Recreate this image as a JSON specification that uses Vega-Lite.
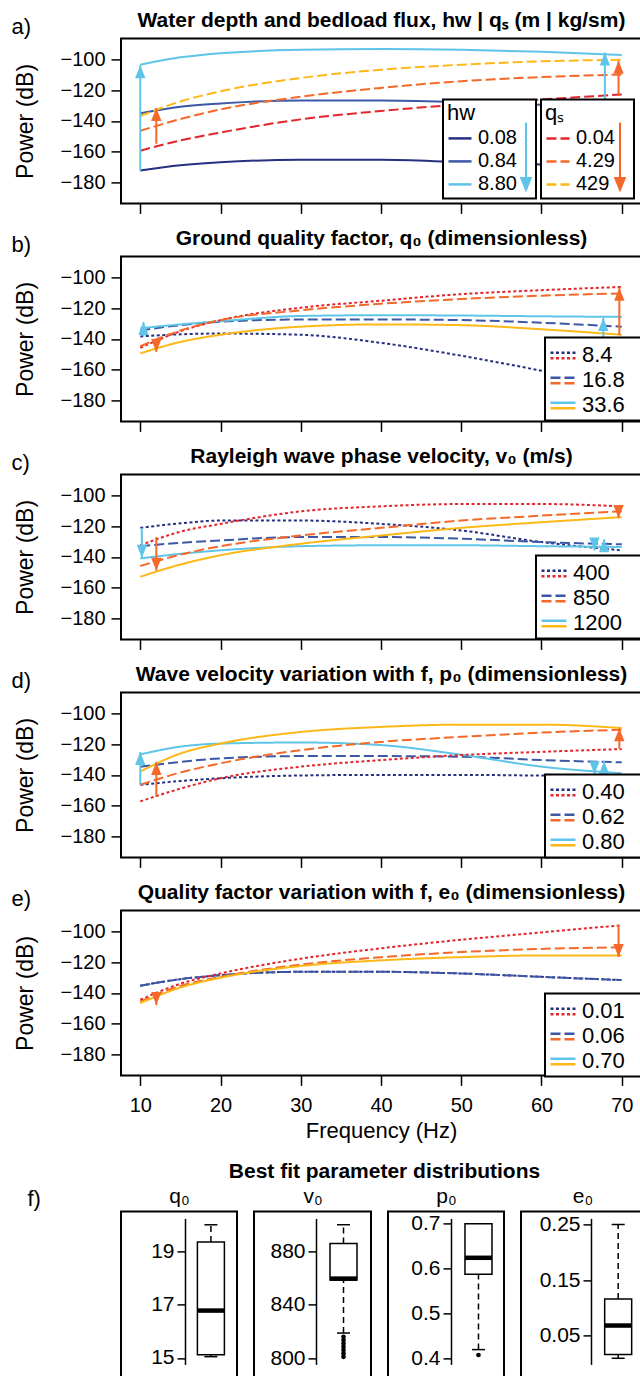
{
"$schema": "https://vega.github.io/schema/vega-lite/v6.json",
"padding": {"left": 10, "top": 8.4, "right": 0, "bottom": 0},
"spacing": 18,
"config": {
 "font": "Liberation Sans",
 "view": {"stroke": "black", "strokeWidth": 2},
 "title": {"font": "Liberation Sans", "fontSize": 21, "fontWeight": "bold", "color": "black", "baseline": "alphabetic"},
 "axis": {"domain": false, "grid": false, "tickColor": "black", "tickWidth": 1.5, "labelColor": "black", "labelFontSize": 20, "titleColor": "black", "titleFontWeight": "normal", "titleFontSize": 23, "labelFlush": false, "labelOverlap": false},
 "axisY": {"tickSize": 10, "labelPadding": 6, "titlePadding": 22},
 "axisX": {"tickSize": 10, "labelPadding": 10, "titlePadding": 5},
 "legend": {"labelFontSize": 22, "labelColor": "black", "titleFontSize": 22, "titleFontWeight": "normal", "titleColor": "black", "symbolStrokeWidth": 2.5, "padding": 4, "labelOffset": 5, "rowPadding": 0, "titlePadding": 0, "strokeWidth": 2}
},
"datasets": {
 "curves": [
  {"panel":"a","fam":"blue","level":"0.08","freq":10,"power":-172.5},{"panel":"a","fam":"blue","level":"0.08","freq":15,"power":-169},{"panel":"a","fam":"blue","level":"0.08","freq":20,"power":-167},{"panel":"a","fam":"blue","level":"0.08","freq":30,"power":-165.5},{"panel":"a","fam":"blue","level":"0.08","freq":40,"power":-165.5},{"panel":"a","fam":"blue","level":"0.08","freq":50,"power":-167},{"panel":"a","fam":"blue","level":"0.08","freq":60,"power":-168.5},{"panel":"a","fam":"blue","level":"0.08","freq":70,"power":-170},
  {"panel":"a","fam":"blue","level":"0.84","freq":10,"power":-135},{"panel":"a","fam":"blue","level":"0.84","freq":15,"power":-130.8},{"panel":"a","fam":"blue","level":"0.84","freq":20,"power":-128.6},{"panel":"a","fam":"blue","level":"0.84","freq":30,"power":-126.6},{"panel":"a","fam":"blue","level":"0.84","freq":40,"power":-126.6},{"panel":"a","fam":"blue","level":"0.84","freq":50,"power":-127.7},{"panel":"a","fam":"blue","level":"0.84","freq":60,"power":-129.5},{"panel":"a","fam":"blue","level":"0.84","freq":70,"power":-131.5},
  {"panel":"a","fam":"blue","level":"8.80","freq":10,"power":-103.2},{"panel":"a","fam":"blue","level":"8.80","freq":15,"power":-98.4},{"panel":"a","fam":"blue","level":"8.80","freq":20,"power":-95.7},{"panel":"a","fam":"blue","level":"8.80","freq":30,"power":-93.5},{"panel":"a","fam":"blue","level":"8.80","freq":40,"power":-93},{"panel":"a","fam":"blue","level":"8.80","freq":50,"power":-93.5},{"panel":"a","fam":"blue","level":"8.80","freq":60,"power":-94.8},{"panel":"a","fam":"blue","level":"8.80","freq":70,"power":-96.8},
  {"panel":"a","fam":"red","level":"0.04","freq":10,"power":-159.5},{"panel":"a","fam":"red","level":"0.04","freq":15,"power":-152.8},{"panel":"a","fam":"red","level":"0.04","freq":20,"power":-147.6},{"panel":"a","fam":"red","level":"0.04","freq":30,"power":-139},{"panel":"a","fam":"red","level":"0.04","freq":40,"power":-133.5},{"panel":"a","fam":"red","level":"0.04","freq":50,"power":-129.2},{"panel":"a","fam":"red","level":"0.04","freq":60,"power":-126},{"panel":"a","fam":"red","level":"0.04","freq":70,"power":-122.7},
  {"panel":"a","fam":"red","level":"4.29","freq":10,"power":-146.5},{"panel":"a","fam":"red","level":"4.29","freq":15,"power":-138.8},{"panel":"a","fam":"red","level":"4.29","freq":20,"power":-132.5},{"panel":"a","fam":"red","level":"4.29","freq":30,"power":-124.2},{"panel":"a","fam":"red","level":"4.29","freq":40,"power":-118.4},{"panel":"a","fam":"red","level":"4.29","freq":50,"power":-114},{"panel":"a","fam":"red","level":"4.29","freq":60,"power":-111.3},{"panel":"a","fam":"red","level":"4.29","freq":70,"power":-109.7},
  {"panel":"a","fam":"red","level":"429","freq":10,"power":-136.8},{"panel":"a","fam":"red","level":"429","freq":15,"power":-127.3},{"panel":"a","fam":"red","level":"429","freq":20,"power":-120.6},{"panel":"a","fam":"red","level":"429","freq":30,"power":-111.9},{"panel":"a","fam":"red","level":"429","freq":40,"power":-106.5},{"panel":"a","fam":"red","level":"429","freq":50,"power":-103.2},{"panel":"a","fam":"red","level":"429","freq":60,"power":-101},{"panel":"a","fam":"red","level":"429","freq":70,"power":-100},

  {"panel":"b","fam":"blue","level":"8.4","freq":10,"power":-138.4},{"panel":"b","fam":"blue","level":"8.4","freq":15,"power":-137},{"panel":"b","fam":"blue","level":"8.4","freq":20,"power":-136.5},{"panel":"b","fam":"blue","level":"8.4","freq":30,"power":-137.3},{"panel":"b","fam":"blue","level":"8.4","freq":40,"power":-142.6},{"panel":"b","fam":"blue","level":"8.4","freq":50,"power":-151},{"panel":"b","fam":"blue","level":"8.4","freq":60,"power":-160.8},{"panel":"b","fam":"blue","level":"8.4","freq":70,"power":-171},
  {"panel":"b","fam":"blue","level":"16.8","freq":10,"power":-134.5},{"panel":"b","fam":"blue","level":"16.8","freq":15,"power":-131},{"panel":"b","fam":"blue","level":"16.8","freq":20,"power":-128.8},{"panel":"b","fam":"blue","level":"16.8","freq":30,"power":-127.3},{"panel":"b","fam":"blue","level":"16.8","freq":40,"power":-127.3},{"panel":"b","fam":"blue","level":"16.8","freq":50,"power":-127.7},{"panel":"b","fam":"blue","level":"16.8","freq":60,"power":-129.4},{"panel":"b","fam":"blue","level":"16.8","freq":70,"power":-132},
  {"panel":"b","fam":"blue","level":"33.6","freq":10,"power":-133},{"panel":"b","fam":"blue","level":"33.6","freq":15,"power":-130.5},{"panel":"b","fam":"blue","level":"33.6","freq":20,"power":-128.4},{"panel":"b","fam":"blue","level":"33.6","freq":30,"power":-125},{"panel":"b","fam":"blue","level":"33.6","freq":40,"power":-124.5},{"panel":"b","fam":"blue","level":"33.6","freq":50,"power":-124.7},{"panel":"b","fam":"blue","level":"33.6","freq":60,"power":-125.2},{"panel":"b","fam":"blue","level":"33.6","freq":70,"power":-125.6},
  {"panel":"b","fam":"red","level":"8.4","freq":10,"power":-145.8},{"panel":"b","fam":"red","level":"8.4","freq":15,"power":-135},{"panel":"b","fam":"red","level":"8.4","freq":20,"power":-127.7},{"panel":"b","fam":"red","level":"8.4","freq":30,"power":-119.6},{"panel":"b","fam":"red","level":"8.4","freq":40,"power":-115},{"panel":"b","fam":"red","level":"8.4","freq":50,"power":-110.7},{"panel":"b","fam":"red","level":"8.4","freq":60,"power":-108.1},{"panel":"b","fam":"red","level":"8.4","freq":70,"power":-106},
  {"panel":"b","fam":"red","level":"16.8","freq":10,"power":-144.8},{"panel":"b","fam":"red","level":"16.8","freq":15,"power":-134.5},{"panel":"b","fam":"red","level":"16.8","freq":20,"power":-127.7},{"panel":"b","fam":"red","level":"16.8","freq":30,"power":-121.3},{"panel":"b","fam":"red","level":"16.8","freq":40,"power":-117},{"panel":"b","fam":"red","level":"16.8","freq":50,"power":-113.9},{"panel":"b","fam":"red","level":"16.8","freq":60,"power":-111.7},{"panel":"b","fam":"red","level":"16.8","freq":70,"power":-110.2},
  {"panel":"b","fam":"red","level":"33.6","freq":10,"power":-149.5},{"panel":"b","fam":"red","level":"33.6","freq":15,"power":-142},{"panel":"b","fam":"red","level":"33.6","freq":20,"power":-137.3},{"panel":"b","fam":"red","level":"33.6","freq":30,"power":-132},{"panel":"b","fam":"red","level":"33.6","freq":40,"power":-130.5},{"panel":"b","fam":"red","level":"33.6","freq":50,"power":-131},{"panel":"b","fam":"red","level":"33.6","freq":60,"power":-133.7},{"panel":"b","fam":"red","level":"33.6","freq":70,"power":-137.3},

  {"panel":"c","fam":"blue","level":"400","freq":10,"power":-121},{"panel":"c","fam":"blue","level":"400","freq":15,"power":-118},{"panel":"c","fam":"blue","level":"400","freq":20,"power":-116.2},{"panel":"c","fam":"blue","level":"400","freq":30,"power":-116.2},{"panel":"c","fam":"blue","level":"400","freq":40,"power":-118.4},{"panel":"c","fam":"blue","level":"400","freq":50,"power":-122.7},{"panel":"c","fam":"blue","level":"400","freq":60,"power":-130.3},{"panel":"c","fam":"blue","level":"400","freq":70,"power":-135.7},
  {"panel":"c","fam":"blue","level":"850","freq":10,"power":-133},{"panel":"c","fam":"blue","level":"850","freq":15,"power":-130.8},{"panel":"c","fam":"blue","level":"850","freq":20,"power":-129.2},{"panel":"c","fam":"blue","level":"850","freq":30,"power":-127},{"panel":"c","fam":"blue","level":"850","freq":40,"power":-127},{"panel":"c","fam":"blue","level":"850","freq":50,"power":-128.1},{"panel":"c","fam":"blue","level":"850","freq":60,"power":-130.3},{"panel":"c","fam":"blue","level":"850","freq":70,"power":-131.8},
  {"panel":"c","fam":"blue","level":"1200","freq":10,"power":-141},{"panel":"c","fam":"blue","level":"1200","freq":15,"power":-138},{"panel":"c","fam":"blue","level":"1200","freq":20,"power":-135.7},{"panel":"c","fam":"blue","level":"1200","freq":30,"power":-133},{"panel":"c","fam":"blue","level":"1200","freq":40,"power":-132.4},{"panel":"c","fam":"blue","level":"1200","freq":50,"power":-132.4},{"panel":"c","fam":"blue","level":"1200","freq":60,"power":-133},{"panel":"c","fam":"blue","level":"1200","freq":70,"power":-133.5},
  {"panel":"c","fam":"red","level":"400","freq":10,"power":-132.4},{"panel":"c","fam":"red","level":"400","freq":15,"power":-123.5},{"panel":"c","fam":"red","level":"400","freq":20,"power":-118.4},{"panel":"c","fam":"red","level":"400","freq":30,"power":-110.2},{"panel":"c","fam":"red","level":"400","freq":40,"power":-106.9},{"panel":"c","fam":"red","level":"400","freq":50,"power":-105.4},{"panel":"c","fam":"red","level":"400","freq":60,"power":-105.4},{"panel":"c","fam":"red","level":"400","freq":70,"power":-106.9},
  {"panel":"c","fam":"red","level":"850","freq":10,"power":-146},{"panel":"c","fam":"red","level":"850","freq":15,"power":-138.5},{"panel":"c","fam":"red","level":"850","freq":20,"power":-133},{"panel":"c","fam":"red","level":"850","freq":30,"power":-126},{"panel":"c","fam":"red","level":"850","freq":40,"power":-121},{"panel":"c","fam":"red","level":"850","freq":50,"power":-116.2},{"panel":"c","fam":"red","level":"850","freq":60,"power":-113},{"panel":"c","fam":"red","level":"850","freq":70,"power":-110.2},
  {"panel":"c","fam":"red","level":"1200","freq":10,"power":-153},{"panel":"c","fam":"red","level":"1200","freq":15,"power":-145},{"panel":"c","fam":"red","level":"1200","freq":20,"power":-138.9},{"panel":"c","fam":"red","level":"1200","freq":30,"power":-131.4},{"panel":"c","fam":"red","level":"1200","freq":40,"power":-126},{"panel":"c","fam":"red","level":"1200","freq":50,"power":-121},{"panel":"c","fam":"red","level":"1200","freq":60,"power":-117.3},{"panel":"c","fam":"red","level":"1200","freq":70,"power":-114},

  {"panel":"d","fam":"blue","level":"0.40","freq":10,"power":-146.5},{"panel":"d","fam":"blue","level":"0.40","freq":15,"power":-144},{"panel":"d","fam":"blue","level":"0.40","freq":20,"power":-142.2},{"panel":"d","fam":"blue","level":"0.40","freq":30,"power":-140.4},{"panel":"d","fam":"blue","level":"0.40","freq":40,"power":-140},{"panel":"d","fam":"blue","level":"0.40","freq":50,"power":-140},{"panel":"d","fam":"blue","level":"0.40","freq":60,"power":-140.4},{"panel":"d","fam":"blue","level":"0.40","freq":70,"power":-140.5},
  {"panel":"d","fam":"blue","level":"0.62","freq":10,"power":-134.6},{"panel":"d","fam":"blue","level":"0.62","freq":15,"power":-131.5},{"panel":"d","fam":"blue","level":"0.62","freq":20,"power":-129.2},{"panel":"d","fam":"blue","level":"0.62","freq":30,"power":-127.7},{"panel":"d","fam":"blue","level":"0.62","freq":40,"power":-127.7},{"panel":"d","fam":"blue","level":"0.62","freq":50,"power":-128.1},{"panel":"d","fam":"blue","level":"0.62","freq":60,"power":-130.3},{"panel":"d","fam":"blue","level":"0.62","freq":70,"power":-131.8},
  {"panel":"d","fam":"blue","level":"0.80","freq":10,"power":-126.6},{"panel":"d","fam":"blue","level":"0.80","freq":15,"power":-121.5},{"panel":"d","fam":"blue","level":"0.80","freq":20,"power":-119.5},{"panel":"d","fam":"blue","level":"0.80","freq":30,"power":-118.8},{"panel":"d","fam":"blue","level":"0.80","freq":40,"power":-120.5},{"panel":"d","fam":"blue","level":"0.80","freq":50,"power":-126.8},{"panel":"d","fam":"blue","level":"0.80","freq":60,"power":-134.6},{"panel":"d","fam":"blue","level":"0.80","freq":70,"power":-138.9},
  {"panel":"d","fam":"red","level":"0.40","freq":10,"power":-157.3},{"panel":"d","fam":"red","level":"0.40","freq":15,"power":-149},{"panel":"d","fam":"red","level":"0.40","freq":20,"power":-142.2},{"panel":"d","fam":"red","level":"0.40","freq":30,"power":-134.6},{"panel":"d","fam":"red","level":"0.40","freq":40,"power":-130.3},{"panel":"d","fam":"red","level":"0.40","freq":50,"power":-127},{"panel":"d","fam":"red","level":"0.40","freq":60,"power":-124.9},{"panel":"d","fam":"red","level":"0.40","freq":70,"power":-123.1},
  {"panel":"d","fam":"red","level":"0.62","freq":10,"power":-146.5},{"panel":"d","fam":"red","level":"0.62","freq":15,"power":-138.5},{"panel":"d","fam":"red","level":"0.62","freq":20,"power":-132.4},{"panel":"d","fam":"red","level":"0.62","freq":30,"power":-123.8},{"panel":"d","fam":"red","level":"0.62","freq":40,"power":-118.4},{"panel":"d","fam":"red","level":"0.62","freq":50,"power":-115.1},{"panel":"d","fam":"red","level":"0.62","freq":60,"power":-112.3},{"panel":"d","fam":"red","level":"0.62","freq":70,"power":-110.4},
  {"panel":"d","fam":"red","level":"0.80","freq":10,"power":-137.8},{"panel":"d","fam":"red","level":"0.80","freq":15,"power":-126},{"panel":"d","fam":"red","level":"0.80","freq":20,"power":-119.5},{"panel":"d","fam":"red","level":"0.80","freq":30,"power":-111.9},{"panel":"d","fam":"red","level":"0.80","freq":40,"power":-108.6},{"panel":"d","fam":"red","level":"0.80","freq":50,"power":-107.1},{"panel":"d","fam":"red","level":"0.80","freq":60,"power":-107.1},{"panel":"d","fam":"red","level":"0.80","freq":70,"power":-109.3},

  {"panel":"e","fam":"blue","level":"0.01","freq":10,"power":-135.3},{"panel":"e","fam":"blue","level":"0.01","freq":15,"power":-131},{"panel":"e","fam":"blue","level":"0.01","freq":20,"power":-128.4},{"panel":"e","fam":"blue","level":"0.01","freq":30,"power":-126.2},{"panel":"e","fam":"blue","level":"0.01","freq":40,"power":-126.2},{"panel":"e","fam":"blue","level":"0.01","freq":50,"power":-127.3},{"panel":"e","fam":"blue","level":"0.01","freq":60,"power":-129.5},{"panel":"e","fam":"blue","level":"0.01","freq":70,"power":-131.6},
  {"panel":"e","fam":"blue","level":"0.06","freq":10,"power":-135.3},{"panel":"e","fam":"blue","level":"0.06","freq":15,"power":-131},{"panel":"e","fam":"blue","level":"0.06","freq":20,"power":-128.4},{"panel":"e","fam":"blue","level":"0.06","freq":30,"power":-126.2},{"panel":"e","fam":"blue","level":"0.06","freq":40,"power":-126.2},{"panel":"e","fam":"blue","level":"0.06","freq":50,"power":-127.3},{"panel":"e","fam":"blue","level":"0.06","freq":60,"power":-129.5},{"panel":"e","fam":"blue","level":"0.06","freq":70,"power":-131.6},
  {"panel":"e","fam":"red","level":"0.01","freq":10,"power":-144.5},{"panel":"e","fam":"red","level":"0.01","freq":15,"power":-134},{"panel":"e","fam":"red","level":"0.01","freq":20,"power":-127.3},{"panel":"e","fam":"red","level":"0.01","freq":30,"power":-117.6},{"panel":"e","fam":"red","level":"0.01","freq":40,"power":-110.8},{"panel":"e","fam":"red","level":"0.01","freq":50,"power":-105.2},{"panel":"e","fam":"red","level":"0.01","freq":60,"power":-100.4},{"panel":"e","fam":"red","level":"0.01","freq":70,"power":-95.7},
  {"panel":"e","fam":"red","level":"0.06","freq":10,"power":-145.6},{"panel":"e","fam":"red","level":"0.06","freq":15,"power":-135.5},{"panel":"e","fam":"red","level":"0.06","freq":20,"power":-129.5},{"panel":"e","fam":"red","level":"0.06","freq":30,"power":-121.5},{"panel":"e","fam":"red","level":"0.06","freq":40,"power":-116.6},{"panel":"e","fam":"red","level":"0.06","freq":50,"power":-113.3},{"panel":"e","fam":"red","level":"0.06","freq":60,"power":-111.2},{"panel":"e","fam":"red","level":"0.06","freq":70,"power":-110.1},
  {"panel":"e","fam":"red","level":"0.70","freq":10,"power":-146.7},{"panel":"e","fam":"red","level":"0.70","freq":15,"power":-136.5},{"panel":"e","fam":"red","level":"0.70","freq":20,"power":-130.1},{"panel":"e","fam":"red","level":"0.70","freq":30,"power":-122.4},{"panel":"e","fam":"red","level":"0.70","freq":40,"power":-118.7},{"panel":"e","fam":"red","level":"0.70","freq":50,"power":-116.6},{"panel":"e","fam":"red","level":"0.70","freq":60,"power":-115.5},{"panel":"e","fam":"red","level":"0.70","freq":70,"power":-115.5}
 ],
 "arrows": [
  {"panel":"a","fam":"blue","dir":"up","freq":10,"from":-172.5,"to":-103.5},
  {"panel":"a","fam":"red","dir":"up","freq":12,"from":-155,"to":-131.5},
  {"panel":"a","fam":"blue","dir":"up","freq":67.9,"from":-168,"to":-95.3},
  {"panel":"a","fam":"red","dir":"up","freq":69.6,"from":-122.7,"to":-100.6},
  {"panel":"b","fam":"blue","dir":"up","freq":10.4,"from":-138.4,"to":-129},
  {"panel":"b","fam":"red","dir":"down","freq":12,"from":-140.5,"to":-148.5},
  {"panel":"b","fam":"blue","dir":"up","freq":67.7,"from":-166,"to":-126.3},
  {"panel":"b","fam":"red","dir":"up","freq":69.7,"from":-137.5,"to":-106.5},
  {"panel":"c","fam":"blue","dir":"down","freq":10.2,"from":-121,"to":-140.5},
  {"panel":"c","fam":"red","dir":"down","freq":12,"from":-127,"to":-149},
  {"panel":"c","fam":"blue","dir":"down","freq":66.6,"from":-129,"to":-135.8},
  {"panel":"c","fam":"blue","dir":"up","freq":67.8,"from":-135.8,"to":-128.5},
  {"panel":"c","fam":"red","dir":"down","freq":69.6,"from":-107,"to":-114.5},
  {"panel":"d","fam":"blue","dir":"up","freq":10,"from":-146.5,"to":-125},
  {"panel":"d","fam":"red","dir":"up","freq":12,"from":-154.5,"to":-131.5},
  {"panel":"d","fam":"blue","dir":"down","freq":66.6,"from":-131,"to":-139.5},
  {"panel":"d","fam":"blue","dir":"up","freq":67.8,"from":-140,"to":-131},
  {"panel":"d","fam":"red","dir":"up","freq":69.7,"from":-123,"to":-109.5},
  {"panel":"e","fam":"red","dir":"down","freq":12,"from":-140,"to":-148},
  {"panel":"e","fam":"red","dir":"down","freq":69.6,"from":-95.7,"to":-116.5}
 ],
 "boxes": [
  {"param":"q0","min":15.05,"q1":15.12,"median":16.78,"q3":19.35,"max":20.0},
  {"param":"v0","min":818.8,"q1":858.5,"median":859.6,"q3":886,"max":900},
  {"param":"p0","min":0.419,"q1":0.587,"median":0.624,"q3":0.70,"max":0.70},
  {"param":"e0","min":0.009,"q1":0.016,"median":0.068,"q3":0.116,"max":0.25}
 ],
 "outliers": [
  {"param":"v0","value":816},{"param":"v0","value":813.5},{"param":"v0","value":811},{"param":"v0","value":808.5},{"param":"v0","value":806},{"param":"v0","value":803.5},{"param":"v0","value":801},
  {"param":"p0","value":0.407}
 ]
},
"vconcat": [
{
"spacing": 11,
"vconcat": [
 {
  "width": 520, "height": 165,
  "layer": [
   {"data": {"name": "curves"}, "transform": [{"filter": "datum.panel == 'a' && datum.fam == 'blue'"}],
    "mark": {"type": "line", "strokeWidth": 2, "interpolate": "monotone"},
    "encoding": {
     "x": {"field": "freq", "type": "quantitative", "scale": {"domain": [7.6, 72.4], "nice": false, "zero": false}, "axis": {"values": [10,20,30,40,50,60,70], "labels": false, "title": null}},
     "y": {"field": "power", "type": "quantitative", "scale": {"domain": [-194, -86], "nice": false, "zero": false}, "title": "Power (dB)", "axis": {"values": [-180,-160,-140,-120,-100], "format": "d"}},
     "color": {"field": "level", "type": "nominal", "scale": {"domain": ["0.08","0.84","8.80"], "range": ["#262f80","#3d57a7","#5ec5e8"]}, "legend": {"title": "hw", "orient": "none", "legendX": 322, "legendY": 61, "symbolType": "stroke", "symbolSize": 529, "labelFontSize": 20, "zindex": 1, "fillColor": "white", "strokeColor": "black", "labelExpr": "datum.label + '\u2800'"}}
    }},
   {"data": {"name": "curves"}, "transform": [{"filter": "datum.panel == 'a' && datum.fam == 'red'"}],
    "mark": {"type": "line", "strokeWidth": 2, "interpolate": "monotone", "strokeDash": [10, 4]},
    "encoding": {
     "x": {"field": "freq", "type": "quantitative", "scale": {"domain": [7.6, 72.4], "nice": false, "zero": false}, "axis": null},
     "y": {"field": "power", "type": "quantitative", "scale": {"domain": [-194, -86], "nice": false, "zero": false}, "axis": {"orient": "right", "title": "a)", "labels": false, "ticks": false, "domain": false, "titleX": -630, "titleY": -5, "titleAngle": 0, "titleAlign": "left", "titleBaseline": "alphabetic", "titleFontSize": 22}},
     "color": {"field": "level", "type": "nominal", "scale": {"domain": ["0.04","4.29","429"], "range": ["#e2262c","#f4692a","#fcb817"]}, "legend": {"title": "qₛ", "orient": "none", "legendX": 420, "legendY": 61, "symbolType": "stroke", "symbolSize": 529, "labelFontSize": 20, "symbolDash": [10, 4], "zindex": 1, "fillColor": "white", "strokeColor": "black", "labelExpr": "datum.label + '\u2800'"}}
    }},
   {"data": {"name": "curves"}, "transform": [{"filter": "false"}],
    "mark": {"type": "point", "filled": true, "color": "#5ec5e8", "opacity": 1},
    "encoding": {
     "shape": {"field": "level", "type": "nominal", "scale": {"domain": ["hw"], "range": ["M-0.03,-1H0.03V0.56H0.18L0,1L-0.18,0.56H-0.03Z"]}, "legend": {"title": null, "orient": "none", "legendX": 370, "legendY": 84, "symbolSize": 4900, "symbolStrokeWidth": 0, "symbolFillColor": "#5ec5e8", "labelOpacity": 0, "labelFontSize": 1, "labelOffset": 0, "padding": 0, "zindex": 3}}
    }},
   {"data": {"name": "curves"}, "transform": [{"filter": "false"}],
    "mark": {"type": "point", "filled": true, "color": "#f4692a", "opacity": 1},
    "encoding": {
     "shape": {"field": "level", "type": "nominal", "scale": {"domain": ["qs"], "range": ["M-0.03,-1H0.03V0.56H0.18L0,1L-0.18,0.56H-0.03Z"]}, "legend": {"title": null, "orient": "none", "legendX": 464, "legendY": 84, "symbolSize": 4900, "symbolStrokeWidth": 0, "symbolFillColor": "#f4692a", "labelOpacity": 0, "labelFontSize": 1, "labelOffset": 0, "padding": 0, "zindex": 3}}
    }},
   {"data": {"name": "arrows"}, "transform": [{"filter": "datum.panel == 'a'"}],
    "mark": {"type": "rule", "strokeWidth": 2},
    "encoding": {
     "x": {"field": "freq", "type": "quantitative", "scale": {"domain": [7.6, 72.4], "nice": false, "zero": false}, "axis": {"orient": "top", "title": "Water depth and bedload flux, hw | qₛ (m | kg/sm)", "domain": false, "ticks": false, "labels": false, "titleX": 260, "titleY": -12, "titleAlign": "center", "titleBaseline": "alphabetic", "titleFont": "Liberation Sans Narrow, Liberation Sans", "titleFontWeight": "bold", "titleFontSize": 21}},
     "y": {"field": "from", "type": "quantitative", "scale": {"domain": [-194, -86], "nice": false, "zero": false}, "axis": null},
     "y2": {"field": "to"},
     "color": {"field": "fam", "type": "nominal", "scale": {"domain": ["blue","red"], "range": ["#5ec5e8","#f4692a"]}, "legend": null}
    }},
   {"data": {"name": "arrows"}, "transform": [{"filter": "datum.panel == 'a' && datum.dir == 'up'"}],
    "mark": {"type": "point", "shape": "M0,-1L0.8,1L-0.8,1Z", "size": 169, "filled": true, "opacity": 1, "strokeWidth": 0, "yOffset": 6.5},
    "encoding": {
     "x": {"field": "freq", "type": "quantitative", "scale": {"domain": [7.6, 72.4], "nice": false, "zero": false}, "axis": null},
     "y": {"field": "to", "type": "quantitative", "scale": {"domain": [-194, -86], "nice": false, "zero": false}, "axis": null},
     "color": {"field": "fam", "type": "nominal", "scale": {"domain": ["blue","red"], "range": ["#5ec5e8","#f4692a"]}, "legend": null}
    }}
  ],
  "resolve": {"scale": {"color": "independent", "strokeDash": "independent", "shape": "independent"}, "axis": {"x": "independent", "y": "independent"}}
 },
 {
  "width": 520, "height": 165,
  "layer": [
   {"data": {"name": "curves"}, "transform": [{"filter": "datum.panel == 'b' && datum.fam == 'blue'"}],
    "mark": {"type": "line", "strokeWidth": 2, "interpolate": "monotone"},
    "encoding": {
     "x": {"field": "freq", "type": "quantitative", "scale": {"domain": [7.6, 72.4], "nice": false, "zero": false}, "axis": {"values": [10,20,30,40,50,60,70], "labels": false, "title": null}},
     "y": {"field": "power", "type": "quantitative", "scale": {"domain": [-194, -86], "nice": false, "zero": false}, "title": "Power (dB)", "axis": {"values": [-180,-160,-140,-120,-100], "format": "d"}},
     "color": {"field": "level", "type": "nominal", "scale": {"domain": ["8.4","16.8","33.6"], "range": ["#262f80","#3d57a7","#5ec5e8"]}, "legend": {"title": null, "orient": "none", "legendX": 424, "legendY": 81, "symbolType": "M-1,-0.22H1", "symbolSize": 625, "zindex": 1, "fillColor": "white", "strokeColor": "black", "labelExpr": "datum.label + '\u2800'"}},
     "strokeDash": {"field": "level", "type": "nominal", "scale": {"domain": ["8.4","16.8","33.6"], "range": [[3,2.5],[10,4],[1,0]]}}
    }},
   {"data": {"name": "curves"}, "transform": [{"filter": "datum.panel == 'b' && datum.fam == 'red'"}],
    "mark": {"type": "line", "strokeWidth": 2, "interpolate": "monotone"},
    "encoding": {
     "x": {"field": "freq", "type": "quantitative", "scale": {"domain": [7.6, 72.4], "nice": false, "zero": false}, "axis": null},
     "y": {"field": "power", "type": "quantitative", "scale": {"domain": [-194, -86], "nice": false, "zero": false}, "axis": {"orient": "right", "title": "b)", "labels": false, "ticks": false, "domain": false, "titleX": -630, "titleY": -5, "titleAngle": 0, "titleAlign": "left", "titleBaseline": "alphabetic", "titleFontSize": 22}},
     "color": {"field": "level", "type": "nominal", "scale": {"domain": ["8.4","16.8","33.6"], "range": ["#e2262c","#f4692a","#fcb817"]}, "legend": {"title": null, "orient": "none", "legendX": 424, "legendY": 81, "symbolType": "M-1,0.22H1", "symbolSize": 625, "zindex": 2, "labelOpacity": 0, "labelExpr": "datum.label + '\u2800'"}},
     "strokeDash": {"field": "level", "type": "nominal", "scale": {"domain": ["8.4","16.8","33.6"], "range": [[3,2.5],[10,4],[1,0]]}}
    }},
   {"data": {"name": "arrows"}, "transform": [{"filter": "datum.panel == 'b'"}],
    "mark": {"type": "rule", "strokeWidth": 2},
    "encoding": {
     "x": {"field": "freq", "type": "quantitative", "scale": {"domain": [7.6, 72.4], "nice": false, "zero": false}, "axis": {"orient": "top", "title": "Ground quality factor, q₀ (dimensionless)", "domain": false, "ticks": false, "labels": false, "titleX": 260, "titleY": -12, "titleAlign": "center", "titleBaseline": "alphabetic", "titleFont": "Liberation Sans Narrow, Liberation Sans", "titleFontWeight": "bold", "titleFontSize": 21}},
     "y": {"field": "from", "type": "quantitative", "scale": {"domain": [-194, -86], "nice": false, "zero": false}, "axis": null},
     "y2": {"field": "to"},
     "color": {"field": "fam", "type": "nominal", "scale": {"domain": ["blue","red"], "range": ["#5ec5e8","#f4692a"]}, "legend": null}
    }},
   {"data": {"name": "arrows"}, "transform": [{"filter": "datum.panel == 'b' && datum.dir == 'up'"}],
    "mark": {"type": "point", "shape": "M0,-1L0.8,1L-0.8,1Z", "size": 169, "filled": true, "opacity": 1, "strokeWidth": 0, "yOffset": 6.5},
    "encoding": {
     "x": {"field": "freq", "type": "quantitative", "scale": {"domain": [7.6, 72.4], "nice": false, "zero": false}, "axis": null},
     "y": {"field": "to", "type": "quantitative", "scale": {"domain": [-194, -86], "nice": false, "zero": false}, "axis": null},
     "color": {"field": "fam", "type": "nominal", "scale": {"domain": ["blue","red"], "range": ["#5ec5e8","#f4692a"]}, "legend": null}
    }},
   {"data": {"name": "arrows"}, "transform": [{"filter": "datum.panel == 'b' && datum.dir == 'down'"}],
    "mark": {"type": "point", "shape": "M0,1L0.8,-1L-0.8,-1Z", "size": 169, "filled": true, "opacity": 1, "strokeWidth": 0, "yOffset": -6.5},
    "encoding": {
     "x": {"field": "freq", "type": "quantitative", "scale": {"domain": [7.6, 72.4], "nice": false, "zero": false}, "axis": null},
     "y": {"field": "to", "type": "quantitative", "scale": {"domain": [-194, -86], "nice": false, "zero": false}, "axis": null},
     "color": {"field": "fam", "type": "nominal", "scale": {"domain": ["blue","red"], "range": ["#5ec5e8","#f4692a"]}, "legend": null}
    }}
  ],
  "resolve": {"scale": {"color": "independent", "strokeDash": "independent"}, "axis": {"x": "independent", "y": "independent"}}
 },
 {
  "width": 520, "height": 165,
  "layer": [
   {"data": {"name": "curves"}, "transform": [{"filter": "datum.panel == 'c' && datum.fam == 'blue'"}],
    "mark": {"type": "line", "strokeWidth": 2, "interpolate": "monotone"},
    "encoding": {
     "x": {"field": "freq", "type": "quantitative", "scale": {"domain": [7.6, 72.4], "nice": false, "zero": false}, "axis": {"values": [10,20,30,40,50,60,70], "labels": false, "title": null}},
     "y": {"field": "power", "type": "quantitative", "scale": {"domain": [-194, -86], "nice": false, "zero": false}, "title": "Power (dB)", "axis": {"values": [-180,-160,-140,-120,-100], "format": "d"}},
     "color": {"field": "level", "type": "nominal", "scale": {"domain": ["400","850","1200"], "range": ["#262f80","#3d57a7","#5ec5e8"]}, "legend": {"title": null, "orient": "none", "legendX": 415, "legendY": 81, "symbolType": "M-1,-0.22H1", "symbolSize": 625, "zindex": 1, "fillColor": "white", "strokeColor": "black", "labelExpr": "datum.label + '\u2800'"}},
     "strokeDash": {"field": "level", "type": "nominal", "scale": {"domain": ["400","850","1200"], "range": [[3,2.5],[10,4],[1,0]]}}
    }},
   {"data": {"name": "curves"}, "transform": [{"filter": "datum.panel == 'c' && datum.fam == 'red'"}],
    "mark": {"type": "line", "strokeWidth": 2, "interpolate": "monotone"},
    "encoding": {
     "x": {"field": "freq", "type": "quantitative", "scale": {"domain": [7.6, 72.4], "nice": false, "zero": false}, "axis": null},
     "y": {"field": "power", "type": "quantitative", "scale": {"domain": [-194, -86], "nice": false, "zero": false}, "axis": {"orient": "right", "title": "c)", "labels": false, "ticks": false, "domain": false, "titleX": -630, "titleY": -5, "titleAngle": 0, "titleAlign": "left", "titleBaseline": "alphabetic", "titleFontSize": 22}},
     "color": {"field": "level", "type": "nominal", "scale": {"domain": ["400","850","1200"], "range": ["#e2262c","#f4692a","#fcb817"]}, "legend": {"title": null, "orient": "none", "legendX": 415, "legendY": 81, "symbolType": "M-1,0.22H1", "symbolSize": 625, "zindex": 2, "labelOpacity": 0, "labelExpr": "datum.label + '\u2800'"}},
     "strokeDash": {"field": "level", "type": "nominal", "scale": {"domain": ["400","850","1200"], "range": [[3,2.5],[10,4],[1,0]]}}
    }},
   {"data": {"name": "arrows"}, "transform": [{"filter": "datum.panel == 'c'"}],
    "mark": {"type": "rule", "strokeWidth": 2},
    "encoding": {
     "x": {"field": "freq", "type": "quantitative", "scale": {"domain": [7.6, 72.4], "nice": false, "zero": false}, "axis": {"orient": "top", "title": "Rayleigh wave phase velocity, v₀ (m/s)", "domain": false, "ticks": false, "labels": false, "titleX": 260, "titleY": -12, "titleAlign": "center", "titleBaseline": "alphabetic", "titleFont": "Liberation Sans Narrow, Liberation Sans", "titleFontWeight": "bold", "titleFontSize": 21}},
     "y": {"field": "from", "type": "quantitative", "scale": {"domain": [-194, -86], "nice": false, "zero": false}, "axis": null},
     "y2": {"field": "to"},
     "color": {"field": "fam", "type": "nominal", "scale": {"domain": ["blue","red"], "range": ["#5ec5e8","#f4692a"]}, "legend": null}
    }},
   {"data": {"name": "arrows"}, "transform": [{"filter": "datum.panel == 'c' && datum.dir == 'up'"}],
    "mark": {"type": "point", "shape": "M0,-1L0.8,1L-0.8,1Z", "size": 169, "filled": true, "opacity": 1, "strokeWidth": 0, "yOffset": 6.5},
    "encoding": {
     "x": {"field": "freq", "type": "quantitative", "scale": {"domain": [7.6, 72.4], "nice": false, "zero": false}, "axis": null},
     "y": {"field": "to", "type": "quantitative", "scale": {"domain": [-194, -86], "nice": false, "zero": false}, "axis": null},
     "color": {"field": "fam", "type": "nominal", "scale": {"domain": ["blue","red"], "range": ["#5ec5e8","#f4692a"]}, "legend": null}
    }},
   {"data": {"name": "arrows"}, "transform": [{"filter": "datum.panel == 'c' && datum.dir == 'down'"}],
    "mark": {"type": "point", "shape": "M0,1L0.8,-1L-0.8,-1Z", "size": 169, "filled": true, "opacity": 1, "strokeWidth": 0, "yOffset": -6.5},
    "encoding": {
     "x": {"field": "freq", "type": "quantitative", "scale": {"domain": [7.6, 72.4], "nice": false, "zero": false}, "axis": null},
     "y": {"field": "to", "type": "quantitative", "scale": {"domain": [-194, -86], "nice": false, "zero": false}, "axis": null},
     "color": {"field": "fam", "type": "nominal", "scale": {"domain": ["blue","red"], "range": ["#5ec5e8","#f4692a"]}, "legend": null}
    }}
  ],
  "resolve": {"scale": {"color": "independent", "strokeDash": "independent"}, "axis": {"x": "independent", "y": "independent"}}
 },
 {
  "width": 520, "height": 165,
  "layer": [
   {"data": {"name": "curves"}, "transform": [{"filter": "datum.panel == 'd' && datum.fam == 'blue'"}],
    "mark": {"type": "line", "strokeWidth": 2, "interpolate": "monotone"},
    "encoding": {
     "x": {"field": "freq", "type": "quantitative", "scale": {"domain": [7.6, 72.4], "nice": false, "zero": false}, "axis": {"values": [10,20,30,40,50,60,70], "labels": false, "title": null}},
     "y": {"field": "power", "type": "quantitative", "scale": {"domain": [-194, -86], "nice": false, "zero": false}, "title": "Power (dB)", "axis": {"values": [-180,-160,-140,-120,-100], "format": "d"}},
     "color": {"field": "level", "type": "nominal", "scale": {"domain": ["0.40","0.62","0.80"], "range": ["#262f80","#3d57a7","#5ec5e8"]}, "legend": {"title": null, "orient": "none", "legendX": 424, "legendY": 82, "symbolType": "M-1,-0.22H1", "symbolSize": 625, "zindex": 1, "fillColor": "white", "strokeColor": "black", "labelExpr": "datum.label + '\u2800'"}},
     "strokeDash": {"field": "level", "type": "nominal", "scale": {"domain": ["0.40","0.62","0.80"], "range": [[3,2.5],[10,4],[1,0]]}}
    }},
   {"data": {"name": "curves"}, "transform": [{"filter": "datum.panel == 'd' && datum.fam == 'red'"}],
    "mark": {"type": "line", "strokeWidth": 2, "interpolate": "monotone"},
    "encoding": {
     "x": {"field": "freq", "type": "quantitative", "scale": {"domain": [7.6, 72.4], "nice": false, "zero": false}, "axis": null},
     "y": {"field": "power", "type": "quantitative", "scale": {"domain": [-194, -86], "nice": false, "zero": false}, "axis": {"orient": "right", "title": "d)", "labels": false, "ticks": false, "domain": false, "titleX": -630, "titleY": -5, "titleAngle": 0, "titleAlign": "left", "titleBaseline": "alphabetic", "titleFontSize": 22}},
     "color": {"field": "level", "type": "nominal", "scale": {"domain": ["0.40","0.62","0.80"], "range": ["#e2262c","#f4692a","#fcb817"]}, "legend": {"title": null, "orient": "none", "legendX": 424, "legendY": 82, "symbolType": "M-1,0.22H1", "symbolSize": 625, "zindex": 2, "labelOpacity": 0, "labelExpr": "datum.label + '\u2800'"}},
     "strokeDash": {"field": "level", "type": "nominal", "scale": {"domain": ["0.40","0.62","0.80"], "range": [[3,2.5],[10,4],[1,0]]}}
    }},
   {"data": {"name": "arrows"}, "transform": [{"filter": "datum.panel == 'd'"}],
    "mark": {"type": "rule", "strokeWidth": 2},
    "encoding": {
     "x": {"field": "freq", "type": "quantitative", "scale": {"domain": [7.6, 72.4], "nice": false, "zero": false}, "axis": {"orient": "top", "title": "Wave velocity variation with f, p₀ (dimensionless)", "domain": false, "ticks": false, "labels": false, "titleX": 260, "titleY": -12, "titleAlign": "center", "titleBaseline": "alphabetic", "titleFont": "Liberation Sans Narrow, Liberation Sans", "titleFontWeight": "bold", "titleFontSize": 21}},
     "y": {"field": "from", "type": "quantitative", "scale": {"domain": [-194, -86], "nice": false, "zero": false}, "axis": null},
     "y2": {"field": "to"},
     "color": {"field": "fam", "type": "nominal", "scale": {"domain": ["blue","red"], "range": ["#5ec5e8","#f4692a"]}, "legend": null}
    }},
   {"data": {"name": "arrows"}, "transform": [{"filter": "datum.panel == 'd' && datum.dir == 'up'"}],
    "mark": {"type": "point", "shape": "M0,-1L0.8,1L-0.8,1Z", "size": 169, "filled": true, "opacity": 1, "strokeWidth": 0, "yOffset": 6.5},
    "encoding": {
     "x": {"field": "freq", "type": "quantitative", "scale": {"domain": [7.6, 72.4], "nice": false, "zero": false}, "axis": null},
     "y": {"field": "to", "type": "quantitative", "scale": {"domain": [-194, -86], "nice": false, "zero": false}, "axis": null},
     "color": {"field": "fam", "type": "nominal", "scale": {"domain": ["blue","red"], "range": ["#5ec5e8","#f4692a"]}, "legend": null}
    }},
   {"data": {"name": "arrows"}, "transform": [{"filter": "datum.panel == 'd' && datum.dir == 'down'"}],
    "mark": {"type": "point", "shape": "M0,1L0.8,-1L-0.8,-1Z", "size": 169, "filled": true, "opacity": 1, "strokeWidth": 0, "yOffset": -6.5},
    "encoding": {
     "x": {"field": "freq", "type": "quantitative", "scale": {"domain": [7.6, 72.4], "nice": false, "zero": false}, "axis": null},
     "y": {"field": "to", "type": "quantitative", "scale": {"domain": [-194, -86], "nice": false, "zero": false}, "axis": null},
     "color": {"field": "fam", "type": "nominal", "scale": {"domain": ["blue","red"], "range": ["#5ec5e8","#f4692a"]}, "legend": null}
    }}
  ],
  "resolve": {"scale": {"color": "independent", "strokeDash": "independent"}, "axis": {"x": "independent", "y": "independent"}}
 },
 {
  "width": 520, "height": 165,
  "layer": [
   {"data": {"name": "curves"}, "transform": [{"filter": "datum.panel == 'e' && datum.fam == 'blue'"}],
    "mark": {"type": "line", "strokeWidth": 2, "interpolate": "monotone"},
    "encoding": {
     "x": {"field": "freq", "type": "quantitative", "scale": {"domain": [7.6, 72.4], "nice": false, "zero": false}, "axis": {"values": [10,20,30,40,50,60,70], "title": "Frequency (Hz)", "titleFontSize": 22}},
     "y": {"field": "power", "type": "quantitative", "scale": {"domain": [-194, -86], "nice": false, "zero": false}, "title": "Power (dB)", "axis": {"values": [-180,-160,-140,-120,-100], "format": "d"}},
     "color": {"field": "level", "type": "nominal", "scale": {"domain": ["0.01","0.06","0.70"], "range": ["#262f80","#3d57a7","#5ec5e8"]}, "legend": {"title": null, "orient": "none", "legendX": 424, "legendY": 83, "symbolType": "M-1,-0.22H1", "symbolSize": 625, "zindex": 1, "fillColor": "white", "strokeColor": "black", "labelExpr": "datum.label + '\u2800'"}},
     "strokeDash": {"field": "level", "type": "nominal", "scale": {"domain": ["0.01","0.06","0.70"], "range": [[3,2.5],[10,4],[1,0]]}}
    }},
   {"data": {"name": "curves"}, "transform": [{"filter": "datum.panel == 'e' && datum.fam == 'red'"}],
    "mark": {"type": "line", "strokeWidth": 2, "interpolate": "monotone"},
    "encoding": {
     "x": {"field": "freq", "type": "quantitative", "scale": {"domain": [7.6, 72.4], "nice": false, "zero": false}, "axis": null},
     "y": {"field": "power", "type": "quantitative", "scale": {"domain": [-194, -86], "nice": false, "zero": false}, "axis": {"orient": "right", "title": "e)", "labels": false, "ticks": false, "domain": false, "titleX": -630, "titleY": -5, "titleAngle": 0, "titleAlign": "left", "titleBaseline": "alphabetic", "titleFontSize": 22}},
     "color": {"field": "level", "type": "nominal", "scale": {"domain": ["0.01","0.06","0.70"], "range": ["#e2262c","#f4692a","#fcb817"]}, "legend": {"title": null, "orient": "none", "legendX": 424, "legendY": 83, "symbolType": "M-1,0.22H1", "symbolSize": 625, "zindex": 2, "labelOpacity": 0, "labelExpr": "datum.label + '\u2800'"}},
     "strokeDash": {"field": "level", "type": "nominal", "scale": {"domain": ["0.01","0.06","0.70"], "range": [[3,2.5],[10,4],[1,0]]}}
    }},
   {"data": {"name": "arrows"}, "transform": [{"filter": "datum.panel == 'e'"}],
    "mark": {"type": "rule", "strokeWidth": 2},
    "encoding": {
     "x": {"field": "freq", "type": "quantitative", "scale": {"domain": [7.6, 72.4], "nice": false, "zero": false}, "axis": {"orient": "top", "title": "Quality factor variation with f, e₀ (dimensionless)", "domain": false, "ticks": false, "labels": false, "titleX": 260, "titleY": -12, "titleAlign": "center", "titleBaseline": "alphabetic", "titleFont": "Liberation Sans Narrow, Liberation Sans", "titleFontWeight": "bold", "titleFontSize": 21}},
     "y": {"field": "from", "type": "quantitative", "scale": {"domain": [-194, -86], "nice": false, "zero": false}, "axis": null},
     "y2": {"field": "to"},
     "color": {"field": "fam", "type": "nominal", "scale": {"domain": ["blue","red"], "range": ["#5ec5e8","#f4692a"]}, "legend": null}
    }},
   {"data": {"name": "arrows"}, "transform": [{"filter": "datum.panel == 'e' && datum.dir == 'down'"}],
    "mark": {"type": "point", "shape": "M0,1L0.8,-1L-0.8,-1Z", "size": 169, "filled": true, "opacity": 1, "strokeWidth": 0, "yOffset": -6.5},
    "encoding": {
     "x": {"field": "freq", "type": "quantitative", "scale": {"domain": [7.6, 72.4], "nice": false, "zero": false}, "axis": null},
     "y": {"field": "to", "type": "quantitative", "scale": {"domain": [-194, -86], "nice": false, "zero": false}, "axis": null},
     "color": {"field": "fam", "type": "nominal", "scale": {"domain": ["blue","red"], "range": ["#5ec5e8","#f4692a"]}, "legend": null}
    }}
  ],
  "resolve": {"scale": {"color": "independent", "strokeDash": "independent"}, "axis": {"x": "independent", "y": "independent"}}
 }
]
},
{
  "title": {"text": "Best fit parameter distributions", "frame": "bounds", "anchor": "middle", "dx": 57, "offset": 2.75, "font": "Liberation Sans", "fontSize": 21},
  "spacing": 15,
  "hconcat": [
   {
    "width": 116, "height": 175,
    "data": {"name": "boxes"},
    "transform": [{"filter": "datum.param == 'q0'"}],
    "encoding": {"x": {"field": "param", "type": "nominal", "scale": {"type": "point", "align": 0.775, "padding": 0}, "axis": {"orient": "top", "title": "q₀", "domain": false, "ticks": false, "labels": false, "titleX": 58, "titleY": -9, "titleAlign": "center", "titleBaseline": "alphabetic", "titleFontSize": 21, "titleFontWeight": "normal"}}},
    "layer": [
     {"mark": {"type": "rule", "color": "black", "strokeWidth": 1.5, "strokeDash": [6, 4]},
      "encoding": {
       "y": {"field": "q3", "type": "quantitative", "scale": {"domain": [14.76, 20.24], "range": [153, 7], "nice": false, "zero": false}, "title": null, "axis": {"values": [15, 17, 19], "format": "d", "offset": -64, "domain": true, "domainColor": "black", "domainWidth": 1.5, "tickSize": 8, "labelPadding": 3, "labelFontSize": 21}},
       "y2": {"field": "max"}
      }},
     {"mark": {"type": "rule", "color": "black", "strokeWidth": 1.5, "strokeDash": [6, 4]},
      "encoding": {"y": {"field": "min", "type": "quantitative", "scale": {"domain": [14.76, 20.24], "range": [153, 7], "nice": false, "zero": false}, "axis": {"orient": "right", "title": "\u2800f)", "labels": false, "ticks": false, "domain": false, "titleX": -226, "titleY": -5.5, "titleAngle": 0, "titleAlign": "left", "titleBaseline": "alphabetic", "titleFontSize": 22}}, "y2": {"field": "q1"}}},
     {"mark": {"type": "tick", "orient": "horizontal", "color": "black", "size": 13, "thickness": 1.5, "opacity": 1},
      "encoding": {"y": {"field": "max", "type": "quantitative", "scale": {"domain": [14.76, 20.24], "range": [153, 7], "nice": false, "zero": false}, "axis": null}}},
     {"mark": {"type": "tick", "orient": "horizontal", "color": "black", "size": 13, "thickness": 1.5, "opacity": 1},
      "encoding": {"y": {"field": "min", "type": "quantitative", "scale": {"domain": [14.76, 20.24], "range": [153, 7], "nice": false, "zero": false}, "axis": null}}},
     {"mark": {"type": "bar", "orient": "vertical", "size": 27, "fill": "white", "stroke": "black", "strokeWidth": 1.5},
      "encoding": {"y": {"field": "q1", "type": "quantitative", "scale": {"domain": [14.76, 20.24], "range": [153, 7], "nice": false, "zero": false}, "axis": null}, "y2": {"field": "q3"}}},
     {"mark": {"type": "tick", "orient": "horizontal", "color": "black", "size": 27, "thickness": 4.5, "opacity": 1},
      "encoding": {"y": {"field": "median", "type": "quantitative", "scale": {"domain": [14.76, 20.24], "range": [153, 7], "nice": false, "zero": false}, "axis": null}}}
    ],
    "resolve": {"axis": {"y": "independent"}}
   },
   {
    "width": 117, "height": 175,
    "encoding": {"x": {"field": "param", "type": "nominal", "scale": {"type": "point", "align": 0.765, "padding": 0}, "axis": {"orient": "top", "title": "v₀", "domain": false, "ticks": false, "labels": false, "titleX": 58.5, "titleY": -9, "titleAlign": "center", "titleBaseline": "alphabetic", "titleFontSize": 21, "titleFontWeight": "normal"}}},
    "layer": [
     {"data": {"name": "boxes"}, "transform": [{"filter": "datum.param == 'v0'"}],
      "mark": {"type": "rule", "color": "black", "strokeWidth": 1.5, "strokeDash": [6, 4]},
      "encoding": {
       "y": {"field": "q3", "type": "quantitative", "scale": {"domain": [795.3, 904.75], "range": [153, 7], "nice": false, "zero": false}, "title": null, "axis": {"values": [800, 840, 880], "format": "d", "offset": -62, "domain": true, "domainColor": "black", "domainWidth": 1.5, "tickSize": 8, "labelPadding": 3, "labelFontSize": 21}},
       "y2": {"field": "max"}
      }},
     {"data": {"name": "boxes"}, "transform": [{"filter": "datum.param == 'v0'"}],
      "mark": {"type": "rule", "color": "black", "strokeWidth": 1.5, "strokeDash": [6, 4]},
      "encoding": {"y": {"field": "min", "type": "quantitative", "title": null}, "y2": {"field": "q1"}}},
     {"data": {"name": "boxes"}, "transform": [{"filter": "datum.param == 'v0'"}],
      "mark": {"type": "tick", "orient": "horizontal", "color": "black", "size": 13, "thickness": 1.5, "opacity": 1},
      "encoding": {"y": {"field": "max", "type": "quantitative", "title": null}}},
     {"data": {"name": "boxes"}, "transform": [{"filter": "datum.param == 'v0'"}],
      "mark": {"type": "tick", "orient": "horizontal", "color": "black", "size": 13, "thickness": 1.5, "opacity": 1},
      "encoding": {"y": {"field": "min", "type": "quantitative", "title": null}}},
     {"data": {"name": "boxes"}, "transform": [{"filter": "datum.param == 'v0'"}],
      "mark": {"type": "bar", "orient": "vertical", "size": 27, "fill": "white", "stroke": "black", "strokeWidth": 1.5},
      "encoding": {"y": {"field": "q1", "type": "quantitative", "title": null}, "y2": {"field": "q3"}}},
     {"data": {"name": "boxes"}, "transform": [{"filter": "datum.param == 'v0'"}],
      "mark": {"type": "tick", "orient": "horizontal", "color": "black", "size": 27, "thickness": 4.5, "opacity": 1},
      "encoding": {"y": {"field": "median", "type": "quantitative", "title": null}}},
     {"data": {"name": "outliers"}, "transform": [{"filter": "datum.param == 'v0'"}],
      "mark": {"type": "circle", "color": "black", "size": 22, "opacity": 1},
      "encoding": {"y": {"field": "value", "type": "quantitative", "title": null}}}
    ]
   },
   {
    "width": 116, "height": 175,
    "encoding": {"x": {"field": "param", "type": "nominal", "scale": {"type": "point", "align": 0.78, "padding": 0}, "axis": {"orient": "top", "title": "p₀", "domain": false, "ticks": false, "labels": false, "titleX": 58, "titleY": -9, "titleAlign": "center", "titleBaseline": "alphabetic", "titleFontSize": 21, "titleFontWeight": "normal"}}},
    "layer": [
     {"data": {"name": "boxes"}, "transform": [{"filter": "datum.param == 'p0'"}],
      "mark": {"type": "rule", "color": "black", "strokeWidth": 1.5, "strokeDash": [6, 4]},
      "encoding": {
       "y": {"field": "min", "type": "quantitative", "scale": {"domain": [0.386, 0.712], "range": [153, 7], "nice": false, "zero": false}, "title": null, "axis": {"values": [0.4, 0.5, 0.6, 0.7], "format": ".1f", "offset": -63, "domain": true, "domainColor": "black", "domainWidth": 1.5, "tickSize": 8, "labelPadding": 3, "labelFontSize": 21}},
       "y2": {"field": "q1"}
      }},
     {"data": {"name": "boxes"}, "transform": [{"filter": "datum.param == 'p0'"}],
      "mark": {"type": "tick", "orient": "horizontal", "color": "black", "size": 13, "thickness": 1.5, "opacity": 1},
      "encoding": {"y": {"field": "min", "type": "quantitative", "title": null}}},
     {"data": {"name": "boxes"}, "transform": [{"filter": "datum.param == 'p0'"}],
      "mark": {"type": "bar", "orient": "vertical", "size": 27, "fill": "white", "stroke": "black", "strokeWidth": 1.5},
      "encoding": {"y": {"field": "q1", "type": "quantitative", "title": null}, "y2": {"field": "q3"}}},
     {"data": {"name": "boxes"}, "transform": [{"filter": "datum.param == 'p0'"}],
      "mark": {"type": "tick", "orient": "horizontal", "color": "black", "size": 27, "thickness": 4.5, "opacity": 1},
      "encoding": {"y": {"field": "median", "type": "quantitative", "title": null}}},
     {"data": {"name": "outliers"}, "transform": [{"filter": "datum.param == 'p0'"}],
      "mark": {"type": "circle", "color": "black", "size": 22, "opacity": 1},
      "encoding": {"y": {"field": "value", "type": "quantitative", "title": null}}}
    ]
   },
   {
    "width": 123, "height": 175,
    "data": {"name": "boxes"},
    "transform": [{"filter": "datum.param == 'e0'"}],
    "encoding": {"x": {"field": "param", "type": "nominal", "scale": {"type": "point", "align": 0.79, "padding": 0}, "axis": {"orient": "top", "title": "e₀", "domain": false, "ticks": false, "labels": false, "titleX": 61.5, "titleY": -9, "titleAlign": "center", "titleBaseline": "alphabetic", "titleFontSize": 21, "titleFontWeight": "normal"}}},
    "layer": [
     {"mark": {"type": "rule", "color": "black", "strokeWidth": 1.5, "strokeDash": [6, 4]},
      "encoding": {
       "y": {"field": "q3", "type": "quantitative", "scale": {"domain": [-0.002, 0.261], "range": [153, 7], "nice": false, "zero": false}, "title": null, "axis": {"values": [0.05, 0.15, 0.25], "format": ".2f", "offset": -70, "domain": true, "domainColor": "black", "domainWidth": 1.5, "tickSize": 8, "labelPadding": 3, "labelFontSize": 21}},
       "y2": {"field": "max"}
      }},
     {"mark": {"type": "rule", "color": "black", "strokeWidth": 1.5, "strokeDash": [6, 4]},
      "encoding": {"y": {"field": "min", "type": "quantitative", "title": null}, "y2": {"field": "q1"}}},
     {"mark": {"type": "tick", "orient": "horizontal", "color": "black", "size": 13, "thickness": 1.5, "opacity": 1},
      "encoding": {"y": {"field": "max", "type": "quantitative", "title": null}}},
     {"mark": {"type": "tick", "orient": "horizontal", "color": "black", "size": 13, "thickness": 1.5, "opacity": 1},
      "encoding": {"y": {"field": "min", "type": "quantitative", "title": null}}},
     {"mark": {"type": "bar", "orient": "vertical", "size": 27, "fill": "white", "stroke": "black", "strokeWidth": 1.5},
      "encoding": {"y": {"field": "q1", "type": "quantitative", "title": null}, "y2": {"field": "q3"}}},
     {"mark": {"type": "tick", "orient": "horizontal", "color": "black", "size": 27, "thickness": 4.5, "opacity": 1},
      "encoding": {"y": {"field": "median", "type": "quantitative", "title": null}}}
    ]
   }
  ]
}
]
}
